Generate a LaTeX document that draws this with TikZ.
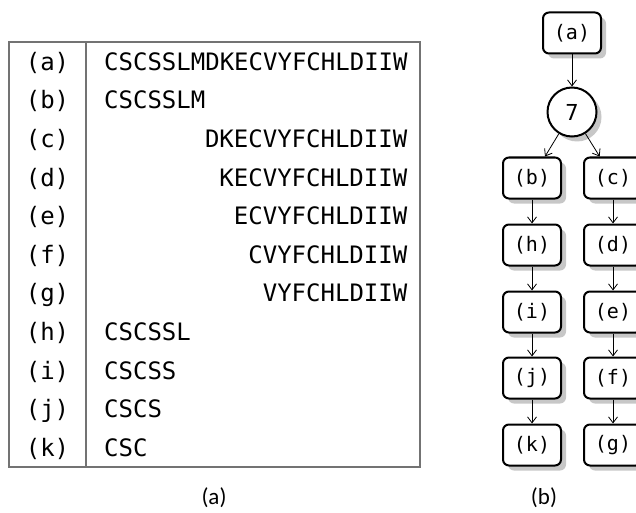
\documentclass[tikz,border=0pt]{standalone}
\usepackage{fontspec}
\setmainfont{Carlito}
\newfontfamily\monofam{DejaVu Sans Mono}
\usetikzlibrary{arrows.meta,shadows}
\begin{document}
\begin{tikzpicture}[x=1pt,y=1pt,
  tabline/.style={draw=black!55,line width=1.5pt},
  tabtext/.style={font=\monofam\fontsize{24}{24}\selectfont,inner sep=0pt},
  rowlabel/.style={tabtext,anchor=base},
  seqleft/.style={tabtext,anchor=base west},
  seqright/.style={tabtext,anchor=base east},
  boxshadow/.style={drop shadow={shadow xshift=5pt,shadow yshift=-5pt,fill=black!22,opacity=1}},
  treebox/.style={draw,line width=2pt,rounded corners=6pt,minimum width=58pt,
    minimum height=41pt,inner sep=0pt,fill=white,boxshadow,
    font=\monofam\fontsize{20}{20}\selectfont},
  treecircle/.style={draw,circle,line width=2pt,minimum size=49pt,inner sep=0pt,
    fill=white,boxshadow,font=\monofam\fontsize{22}{22}\selectfont},
  link/.style={line width=0.8pt,-{Straight Barb[length=6pt,width=9pt]}},
  capt/.style={font=\fontsize{23}{23}\selectfont,inner sep=0pt}
]
\clip (0,0) rectangle (636,-513);

% table frame and column rule
\draw[tabline] (9,-42) rectangle (420,-467);
\draw[tabline] (86,-42) -- (86,-467);

% rows: label, sequence, alignment
\foreach \lab/\seq/\al [count=\k from 0] in {
  a/CSCSSLMDKECVYFCHLDIIW/l,
  b/CSCSSLM/l,
  c/DKECVYFCHLDIIW/r,
  d/KECVYFCHLDIIW/r,
  e/ECVYFCHLDIIW/r,
  f/CVYFCHLDIIW/r,
  g/VYFCHLDIIW/r,
  h/CSCSSL/l,
  i/CSCSS/l,
  j/CSCS/l,
  k/CSC/l}{
  \pgfmathsetmacro{\yb}{-(61.5+38.6*\k+8.7)}
  \node[rowlabel] (lab-\lab) at (47.5,\yb) {(\lab)};
  \if l\al
    \node[seqleft] (seq-\lab) at (104,\yb) {\seq};
  \else
    \node[seqright] (seq-\lab) at (407.5,\yb) {\seq};
  \fi
}

% tree
\node[treebox] (ta) at (572,-33) {(a)};
\node[treecircle] (t7) at (572,-112) {7};
\node[treebox] (tb) at (532,-178) {(b)};
\node[treebox] (th) at (532,-245) {(h)};
\node[treebox] (ti) at (532,-312) {(i)};
\node[treebox] (tj) at (532,-378) {(j)};
\node[treebox] (tk) at (532,-445) {(k)};
\node[treebox] (tc) at (613,-178) {(c)};
\node[treebox] (td) at (613,-245) {(d)};
\node[treebox] (te) at (613,-312) {(e)};
\node[treebox] (tf) at (613,-378) {(f)};
\node[treebox] (tg) at (613,-445) {(g)};

\draw[link] (ta) -- (t7);
\draw[link] (t7) -- (tb);
\draw[link] (t7) -- (tc);
\draw[link] (tb) -- (th);
\draw[link] (th) -- (ti);
\draw[link] (ti) -- (tj);
\draw[link] (tj) -- (tk);
\draw[link] (tc) -- (td);
\draw[link] (td) -- (te);
\draw[link] (te) -- (tf);
\draw[link] (tf) -- (tg);

% captions
\node[capt] (capa) at (214,-498) {(a)};
\node[capt] (capb) at (544,-498) {(b)};
\end{tikzpicture}
\end{document}
